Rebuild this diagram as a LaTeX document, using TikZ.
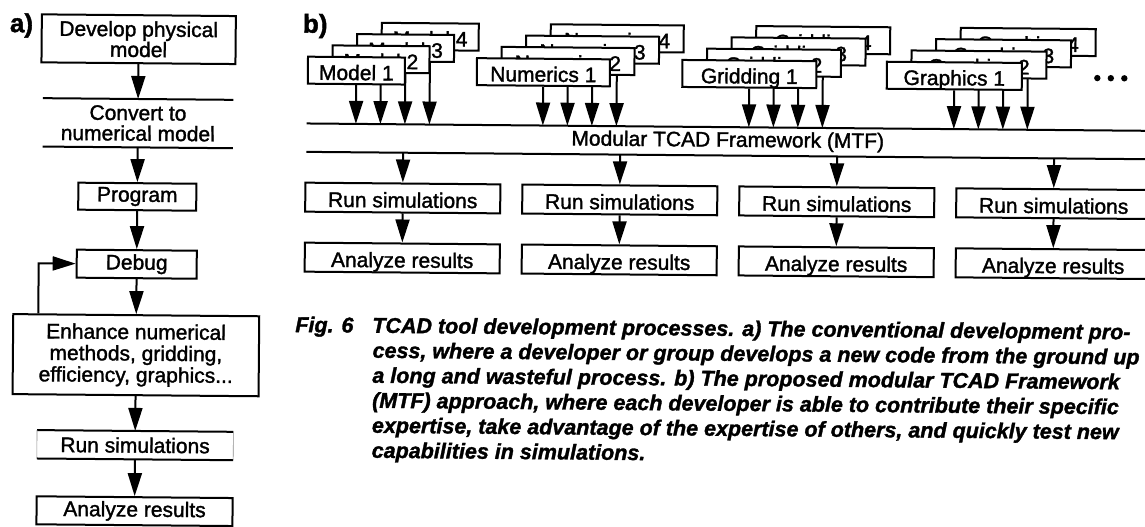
\documentclass[tikz,border=0pt]{standalone}
\usepackage{fontspec}
\setmainfont{Liberation Sans}[FakeBold=1.5]
\usetikzlibrary{arrows.meta}
\newcommand\bodyfont{\fontsize{21}{20.5}\selectfont}
\newcommand\tagfont{\fontsize{26}{26}\selectfont\bfseries}
\newcommand\capfont{\fontsize{21.5}{25}\selectfont\bfseries\itshape}
% one stack of four overlapping module boxes, each feeding the framework
% #1 name prefix, #2 centre x of front box, #3 width, #4 label
\newcommand\modstack[4]{%
  \foreach \k in {4,3,2,1} {
    \node[tbox, oneline, minimum width=#3, minimum height=27pt] (#1\k)
      at ({#2+24.5*(\k-1)},{67.5-11.5*(\k-1)}) {#4 \k};
    \draw[arr] (#1\k.south) -- (#1\k.south |- mtf.north);
  }%
}
\begin{document}
\begin{tikzpicture}[x=1pt,y=-1pt,
  tbox/.style={draw, line width=2pt, fill=white, inner sep=0pt, font=\bodyfont, align=center},
  oneline/.style={text height=20pt, text depth=1pt},
  bare/.style={inner sep=0pt, font=\bodyfont, align=center},
  rule/.style={line width=2pt},
  faint/.style={line width=0.6pt, black!45},
  arr/.style={line width=2pt, -{Triangle[length=23pt,width=14pt]}},
  tag/.style={font=\tagfont, inner sep=0pt, anchor=base west},
  captext/.style={font=\capfont, inner sep=0pt, anchor=base west},
  dot/.style={circle, fill, inner sep=0pt, minimum size=6.4pt},
]
\useasboundingbox (0,0) rectangle (1145,527);
\begin{scope}[rotate around={-0.5:(0,0)}, transform shape]

% ---------- a) conventional process ----------
\node[tag] (tagA) at (10,32) {a)};
\node[tbox, minimum width=194pt, minimum height=48pt] (dev) at (139,38) {Develop physical\\model};
\node[bare, minimum width=190pt, minimum height=48pt] (conv) at (139,122) {Convert to\\numerical model};
\draw[rule] (conv.north west) -- (conv.north east);
\draw[rule] (conv.south west) -- (conv.south east);
\node[tbox, minimum width=118pt, minimum height=27pt] (prog) at (139,195.5) {Program};
\node[tbox, minimum width=120pt, minimum height=28pt] (dbg) at (139,263) {Debug};
\node[tbox, minimum width=246pt, minimum height=80pt, font=\fontsize{21}{21.5}\selectfont] (enh) at (139,354)
  {Enhance numerical\\methods, gridding,\\efficiency, graphics...};
\node[bare, minimum width=196pt, minimum height=28pt] (runA) at (139,444) {Run simulations};
\draw[rule] (runA.north west) -- (runA.north east);
\draw[rule] (runA.south west) -- (runA.south east);
\draw[faint] (runA.north west) -- (runA.south west);
\draw[faint] (runA.north east) -- (runA.south east);
\node[tbox, minimum width=196pt, minimum height=28pt] (anaA) at (139,510) {Analyze results};

\draw[arr] (dev.south) -- (conv.north);
\draw[arr] (conv.south) -- (prog.north);
\draw[arr] (prog.south) -- (dbg.north);
\draw[arr] (dbg.south) -- (enh.north);
\draw[arr] (enh.south) -- (runA.north);
\draw[arr] (runA.south) -- (anaA.north);
\coordinate (loop) at ([xshift=26pt]enh.north west);
\draw[arr] (loop) |- (dbg.west);

% ---------- b) modular framework ----------
\node[tag] (tagB) at (303,30) {b)};
\node[bare, minimum width=842pt, minimum height=28pt] (mtf) at (729,135) {Modular TCAD Framework (MTF)};
\draw[rule] (mtf.north west) -- (mtf.north east);
\draw[rule] (mtf.south west) -- (mtf.south east);

\modstack{m}{357}{97pt}{Model}
\modstack{n}{544}{133pt}{Numerics}
\modstack{g}{750}{134pt}{Gridding}
\modstack{p}{955}{135pt}{Graphics}

\node[dot] (d1) at (1098,68.5) {};
\node[dot] (d2) at (1111.5,68.5) {};
\node[dot] (d3) at (1125,68.5) {};

\foreach \i/\cx in {1/404.5, 2/621.5, 3/838.5, 4/1055.5} {
  \node[tbox, oneline, minimum width=195pt, minimum height=29pt] (rs\i) at (\cx,194.5) {Run simulations};
  \node[tbox, oneline, minimum width=195pt, minimum height=29pt] (an\i) at (\cx,254.5) {Analyze results};
  \draw[arr] (rs\i.north |- mtf.south) -- (rs\i.north);
  \draw[arr] (rs\i.south) -- (an\i.north);
}

% ---------- caption ----------
\node[captext] (fig) at (298,329.5) {Fig. 6};
\node[captext] (c1) at (375,329.5) {TCAD tool development processes. a) The conventional development pro-};
\node[captext] (c2) at (375.5,354.5) {cess, where a developer or group develops a new code from the ground up};
\node[captext] (c3) at (375.5,379.5) {a long and wasteful process. b) The proposed modular TCAD Framework};
\node[captext] (c4) at (375.5,404.5) {(MTF) approach, where each developer is able to contribute their specific};
\node[captext] (c5) at (375.5,429.5) {expertise, take advantage of the expertise of others, and quickly test new};
\node[captext] (c6) at (375.5,454.5) {capabilities in simulations.};

\end{scope}
\end{tikzpicture}
\end{document}
